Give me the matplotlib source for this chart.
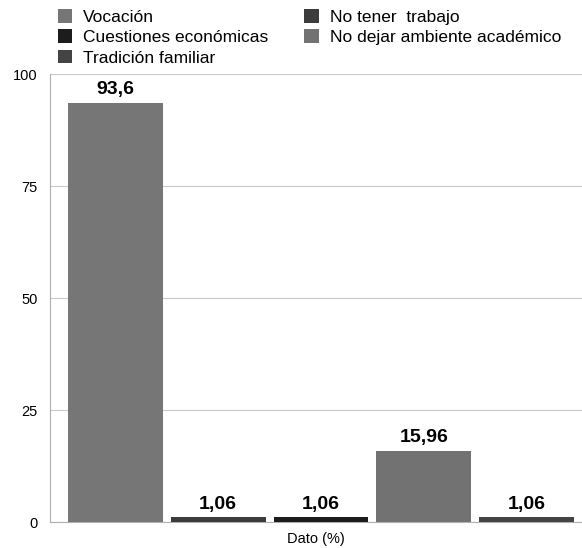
import matplotlib.pyplot as plt
from matplotlib.patches import Patch

plt.rcParams['font.family'] = ['Liberation Sans', 'DejaVu Sans']

categories = ['Vocación', 'No tener  trabajo', 'Cuestiones económicas',
              'No dejar ambiente académico', 'Tradición familiar']
values = [93.6, 1.06, 1.06, 15.96, 1.06]
labels = ['93,6', '1,06', '1,06', '15,96', '1,06']
colors = ['#767676', '#3c3c3c', '#1c1c1c', '#727272', '#444444']

fig = plt.figure(figsize=(5.82, 5.48), dpi=100)
ax = fig.add_axes([0.0859, 0.0474, 0.9141, 0.8175])

x = range(len(values))
ax.bar(x, values, width=0.922, color=colors, zorder=3)
for xi, v, lab in zip(x, values, labels):
    ax.text(xi, v + 1.0, lab, ha='center', va='bottom',
            fontsize=14, fontweight='bold', zorder=4)

ax.set_ylim(0, 100)
ax.set_xlim(-0.636, 4.539)
ax.set_yticks([0, 25, 50, 75, 100])
ax.tick_params(axis='y', length=0, labelsize=10.5, pad=9)
ax.set_xticks([])
ax.yaxis.grid(True, color='#c8c8c8', linewidth=0.8, zorder=0)
for s in ['top', 'right']:
    ax.spines[s].set_visible(False)
ax.spines['left'].set_color('#b0b0b0')
ax.spines['bottom'].set_color('#b0b0b0')
ax.set_xlabel('Dato (%)', fontsize=10.5, labelpad=7.5)

# legend filled row by row: two columns
handles = [Patch(facecolor=c) for c in colors]
order = [0, 2, 4, 1, 3]
fig.legend([handles[i] for i in order], [categories[i] for i in order],
           ncol=2, loc='upper left', bbox_to_anchor=(0.072, 1.012),
           frameon=False, fontsize=12.5, handlelength=0.85, handleheight=0.85,
           labelspacing=0.25, columnspacing=2.1, handletextpad=0.6)

fig.savefig('out.png', dpi=100)
